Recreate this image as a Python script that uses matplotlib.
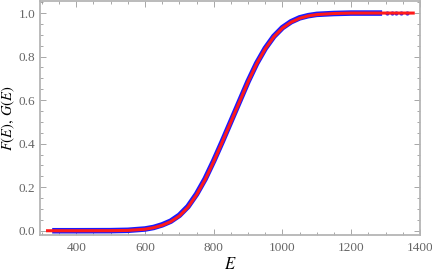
import matplotlib
matplotlib.use("Agg")
import matplotlib.pyplot as plt
from matplotlib.ticker import MultipleLocator

# fitted CDF G(E)
e_fit = [312, 400, 500, 550, 600, 625, 650, 675, 700, 725, 750, 775, 800, 825,
         850, 875, 900, 925, 950, 975, 1000, 1025, 1050, 1075, 1100, 1150, 1200, 1385]
g_fit = [0.0, 0.0, 0.0003, 0.0015, 0.007, 0.014, 0.025, 0.042, 0.068, 0.108, 0.165,
         0.235, 0.318, 0.408, 0.500, 0.592, 0.684, 0.767, 0.836, 0.891, 0.931, 0.958,
         0.976, 0.987, 0.993, 0.998, 1.0, 1.0]

# empirical CDF F(E), blue band
e_emp = [330, 400, 500, 550, 600, 625, 650, 675, 700, 725, 750, 775, 800, 825,
         850, 875, 900, 925, 950, 975, 1000, 1025, 1050, 1075, 1100, 1150, 1200, 1290]
f_emp = [0.0, 0.0, 0.0004, 0.002, 0.008, 0.015, 0.027, 0.044, 0.071, 0.111, 0.168,
         0.238, 0.321, 0.410, 0.502, 0.594, 0.686, 0.769, 0.838, 0.893, 0.933, 0.960,
         0.978, 0.988, 0.994, 0.998, 1.0, 1.0]
e_tail = [1305, 1318, 1331, 1346, 1361]
f_tail = [1.0, 1.0, 1.0, 1.0, 1.0]

plt.rcParams['mathtext.fontset'] = 'stix'
plt.rcParams['font.family'] = ['Liberation Serif', 'DejaVu Serif']

fig = plt.figure(figsize=(4.32, 2.74), dpi=100)
ax = fig.add_axes([0.093, 0.142, 0.879, 0.854])

ax.plot(e_emp, f_emp, color='#1a1aff', lw=4, solid_capstyle='butt', zorder=2)
ax.plot(e_tail, f_tail, 'o', color='#1a1aff', ms=3, mew=0, zorder=2)
ax.plot(e_fit, g_fit, color='#ff1a1a', lw=2.2, solid_capstyle='butt', zorder=3)

ax.set_xlim(295, 1400)
ax.set_ylim(-0.02, 1.055)
ax.xaxis.set_major_locator(MultipleLocator(200))
ax.xaxis.set_minor_locator(MultipleLocator(50))
ax.yaxis.set_major_locator(MultipleLocator(0.2))
ax.yaxis.set_minor_locator(MultipleLocator(0.05))
ax.yaxis.set_major_formatter(plt.FuncFormatter(lambda v, p: f"{v:.1f}"))

frame = '#b5b5b5'
for s in ax.spines.values():
    s.set_color(frame)
    s.set_linewidth(1.3)
ax.tick_params(which='both', direction='in', color='#999999', top=True, right=True,
               labelcolor='#666666', labelsize=9.5, width=0.6)
ax.tick_params(which='major', length=4)
ax.tick_params(which='minor', length=2)
ax.tick_params(axis='x', pad=5)

ax.set_xlabel('$E$', fontsize=12, labelpad=2)
ax.set_ylabel('$F(E),\\,G(E)$', fontsize=10.5, labelpad=1)

fig.savefig('out.png', dpi=100)
